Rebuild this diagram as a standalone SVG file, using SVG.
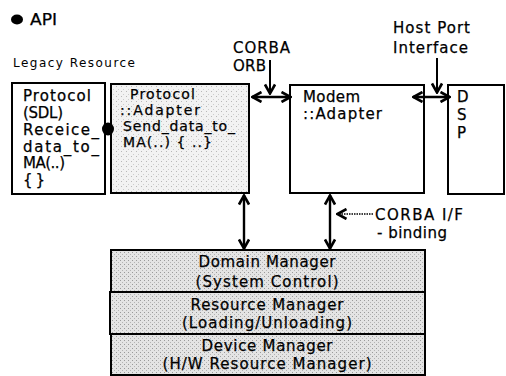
<svg xmlns="http://www.w3.org/2000/svg" width="506" height="376" viewBox="0 0 506 376">
<style>
text{font-family:"DejaVu Sans","Verdana",sans-serif;fill:#000;}
.t{font-size:15px;stroke:#000;stroke-width:0.25;}
.a{font-size:14px;}
.s{font-size:12px;}
.box{stroke:#000;stroke-width:2;}
.arr{stroke:#000;stroke-width:2.4;fill:none;marker-start:url(#ah);marker-end:url(#ah);}
.one{stroke:#000;stroke-width:2;fill:none;marker-end:url(#ah);}
</style>
<defs>
<marker id="ah" viewBox="0 0 12 12" refX="11" refY="6" markerWidth="12" markerHeight="12" markerUnits="userSpaceOnUse" orient="auto-start-reverse">
<path d="M1.5,1 L10.5,6 L1.5,11" fill="none" stroke="#000" stroke-width="2.6" stroke-linejoin="miter"/>
</marker>
<pattern id="stip" width="4" height="4" patternUnits="userSpaceOnUse">
<rect width="4" height="4" fill="#e4e4e4"/>
<rect x="0" y="0" width="1" height="1" fill="#9a9a9a"/>
<rect x="2" y="2" width="1" height="1" fill="#b4b4b4"/>
</pattern>
<pattern id="stipL" width="5" height="5" patternUnits="userSpaceOnUse">
<rect width="5" height="5" fill="#f2f2f2"/>
<rect x="1" y="1" width="1" height="1" fill="#b8b8b8"/>
<rect x="3" y="4" width="1" height="1" fill="#cccccc"/>
</pattern>
</defs>
<rect width="506" height="376" fill="#fff"/>

<g id="legend">
<ellipse cx="17" cy="19.5" rx="6" ry="5" fill="#000"/>
<text x="30" y="25" class="t" font-size="14" textLength="27" lengthAdjust="spacingAndGlyphs">API</text>
<text x="13" y="67" class="s" textLength="122" lengthAdjust="spacing">Legacy Resource</text>
</g>

<g id="legacy-protocol">
<rect x="12" y="83" width="93" height="111" fill="#fff" class="box"/>
<text class="t" x="23" y="101" textLength="68" lengthAdjust="spacing">Protocol</text>
<text class="t" x="23" y="118" textLength="40" lengthAdjust="spacing">(SDL)</text>
<text class="t" x="23" y="135" textLength="76" lengthAdjust="spacing">Receice_</text>
<text class="t" x="23" y="151.5" textLength="76" lengthAdjust="spacing">data_to_</text>
<text class="t" x="23" y="168" textLength="42" lengthAdjust="spacing">MA(..)</text>
<text class="t" x="23" y="184.5" textLength="22" lengthAdjust="spacing">{ }</text>
</g>

<g id="protocol-adapter">
<rect x="111" y="84" width="138" height="109" fill="url(#stipL)" class="box"/>
<text class="t a" x="130" y="99" textLength="65" lengthAdjust="spacing">Protocol</text>
<text class="t a" x="120" y="115" textLength="80" lengthAdjust="spacing">::Adapter</text>
<text class="t a" x="123" y="131" textLength="112" lengthAdjust="spacing">Send_data_to_</text>
<text class="t a" x="123" y="147" textLength="89" lengthAdjust="spacing">MA(..) { ..}</text>
</g>

<g id="api-dot">
<ellipse cx="108" cy="129" rx="6" ry="6.5" fill="#000"/>
</g>

<g id="modem-adapter">
<rect x="290" y="85" width="134" height="108" fill="#fff" class="box"/>
<text class="t" x="303" y="102" textLength="57" lengthAdjust="spacing">Modem</text>
<text class="t" x="303" y="119" textLength="79" lengthAdjust="spacing">::Adapter</text>
</g>

<g id="dsp">
<rect x="448" y="85" width="56" height="109" fill="#fff" class="box"/>
<text class="t" x="457" y="102">D</text>
<text class="t" x="457" y="120">S</text>
<text class="t" x="457" y="138">P</text>
</g>

<g id="labels">
<text class="t" x="233" y="53" textLength="57" lengthAdjust="spacing">CORBA</text>
<text class="t" x="233" y="71" textLength="33" lengthAdjust="spacing">ORB</text>
<text class="t" x="393" y="33" textLength="77" lengthAdjust="spacing">Host Port</text>
<text class="t" x="393" y="53" textLength="75" lengthAdjust="spacing">Interface</text>
<text class="t" x="375" y="220" textLength="88" lengthAdjust="spacing">CORBA I/F</text>
<text class="t" x="377" y="238" textLength="70" lengthAdjust="spacing">- binding</text>
</g>

<g id="domain-manager">
<rect x="111" y="250" width="314" height="42" fill="url(#stip)" class="box"/>
<text class="t" x="267" y="267" text-anchor="middle" textLength="137" lengthAdjust="spacing">Domain Manager</text>
<text class="t" x="267" y="287" text-anchor="middle" textLength="143" lengthAdjust="spacing">(System Control)</text>
</g>
<g id="resource-manager">
<rect x="110" y="292" width="315" height="42" fill="url(#stip)" class="box"/>
<text class="t" x="267" y="310" text-anchor="middle" textLength="153" lengthAdjust="spacing">Resource Manager</text>
<text class="t" x="267" y="328" text-anchor="middle" textLength="170" lengthAdjust="spacing">(Loading/Unloading)</text>
</g>
<g id="device-manager">
<rect x="111" y="334" width="314" height="41" fill="url(#stip)" class="box"/>
<text class="t" x="267" y="351" text-anchor="middle" textLength="131" lengthAdjust="spacing">Device Manager</text>
<text class="t" x="267" y="369" text-anchor="middle" textLength="209" lengthAdjust="spacing">(H/W Resource Manager)</text>
</g>

<g id="connectors">
<line class="arr" x1="252" y1="97" x2="291" y2="97"/>
<line class="one" x1="270" y1="60" x2="270" y2="94"/>
<line class="arr" x1="413" y1="97" x2="450" y2="97"/>
<line class="one" x1="437" y1="58" x2="437" y2="93"/>
<line class="arr" x1="244" y1="195" x2="244" y2="249"/>
<line class="arr" x1="330" y1="195" x2="330" y2="249"/>
<line x1="373" y1="214" x2="337" y2="214" stroke="#000" stroke-width="1.6" stroke-dasharray="1.5 1" marker-end="url(#ah)"/>
</g>
</svg>
